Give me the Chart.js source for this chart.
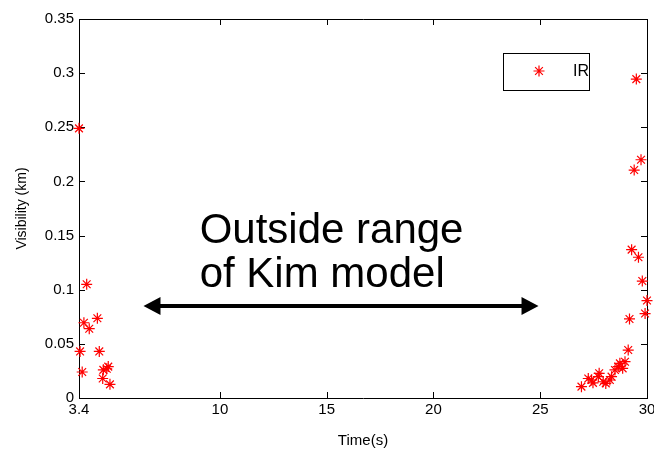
<!DOCTYPE html>
<html>
<head>
<meta charset="utf-8">
<script src="https://cdn.jsdelivr.net/npm/chart.js@4.4.1/dist/chart.umd.min.js"></script>
<style>
  html, body { margin: 0; padding: 0; background: #fff; }
  #wrap { width: 654px; height: 450px; }
</style>
</head>
<body>
<div id="wrap"><canvas id="chart" width="654" height="450"></canvas></div>
<script>
// values
const timeSec = [
    3.40, 3.76, 3.63, 3.88, 4.26, 3.45, 4.35, 3.55, 4.54, 4.70, 4.77, 4.51, 4.85,
    26.93, 27.25, 27.40, 27.47, 27.76, 27.72, 27.95, 28.07, 28.26, 28.34, 28.50,
    28.65, 28.73, 28.86, 28.97, 29.12, 29.18, 29.91, 30.00, 29.78, 29.60, 29.28,
    29.50, 29.72, 29.40
];
const visibilityKm = [
    0.249, 0.105, 0.0695, 0.064, 0.0736, 0.043, 0.043, 0.024, 0.026, 0.027, 0.029, 0.018, 0.0126,
    0.0105, 0.018, 0.0166, 0.014, 0.0228, 0.0197, 0.015, 0.0135, 0.0166, 0.0197, 0.0259,
    0.029, 0.032, 0.0274, 0.0335, 0.0443, 0.073, 0.078, 0.090, 0.108, 0.130, 0.137,
    0.2945, 0.220, 0.2105
];
const xTicks = [3.4, 10, 15, 20, 25, 30];
const yTicks = [0, 0.05, 0.1, 0.15, 0.2, 0.25, 0.3, 0.35];
const seriesName = "IR";
const noteLines = ["Outside range", "of Kim model"];

const FONT = "'Liberation Sans', Arial, sans-serif";
const RED = "#ff0000";

const points = timeSec.map((t, i) => ({ x: t, y: visibilityKm[i] }));

// box, inward ticks, annotation and legend (matlab look)
const matlabFrame = {
    id: "matlabFrame",
    beforeDatasetsDraw(chart) {
        const { ctx, chartArea: a, scales } = chart;
        const len = 6;
        ctx.save();
        ctx.strokeStyle = "#000";
        ctx.lineWidth = 1;
        ctx.beginPath();
        ctx.moveTo(a.left, a.top + 0.5);
        ctx.lineTo(a.right + 0.5, a.top + 0.5);
        ctx.lineTo(a.right + 0.5, a.bottom);
        xTicks.forEach(v => {
            const px = Math.round(scales.x.getPixelForValue(v)) + 0.5;
            ctx.moveTo(px, a.bottom);
            ctx.lineTo(px, a.bottom - len);
            ctx.moveTo(px, a.top);
            ctx.lineTo(px, a.top + len);
        });
        yTicks.forEach(v => {
            const py = Math.round(scales.y.getPixelForValue(v)) + 0.5;
            ctx.moveTo(a.left, py);
            ctx.lineTo(a.left + len, py);
            ctx.moveTo(a.right, py);
            ctx.lineTo(a.right - len, py);
        });
        ctx.stroke();
        ctx.restore();
    },
    afterDraw(chart) {
        const { ctx, chartArea: a, scales } = chart;
        ctx.save();

        // note text
        ctx.fillStyle = "#000";
        ctx.font = "42px " + FONT;
        ctx.textAlign = "left";
        ctx.textBaseline = "alphabetic";
        const tx = scales.x.getPixelForValue(9.05);
        ctx.fillText(noteLines[0], tx, scales.y.getPixelForValue(0.1436));
        ctx.fillText(noteLines[1], tx, scales.y.getPixelForValue(0.1029));

        // double arrow
        const x0 = scales.x.getPixelForValue(6.42);
        const x1 = scales.x.getPixelForValue(24.92);
        const ay = scales.y.getPixelForValue(0.085);
        const hl = 17, hw = 9;
        ctx.strokeStyle = "#000";
        ctx.lineWidth = 4;
        ctx.beginPath();
        ctx.moveTo(x0 + hl - 2, ay);
        ctx.lineTo(x1 - hl + 2, ay);
        ctx.stroke();
        ctx.beginPath();
        ctx.moveTo(x0, ay);
        ctx.lineTo(x0 + hl, ay - hw);
        ctx.lineTo(x0 + hl, ay + hw);
        ctx.closePath();
        ctx.moveTo(x1, ay);
        ctx.lineTo(x1 - hl, ay - hw);
        ctx.lineTo(x1 - hl, ay + hw);
        ctx.closePath();
        ctx.fill();

        // legend box
        const bw = 86, bh = 37;
        const bx = a.right - 58 - bw, by = a.top + 34;
        ctx.fillStyle = "#fff";
        ctx.fillRect(bx, by, bw, bh);
        ctx.strokeStyle = "#000";
        ctx.lineWidth = 1;
        ctx.strokeRect(Math.round(bx) + 0.5, Math.round(by) + 0.5, bw, bh);
        ctx.strokeStyle = RED;
        ctx.lineWidth = 1.2;
        Chart.helpers.drawPoint(ctx, { pointStyle: "star", radius: 5.5, rotation: 0, borderWidth: 1.2 }, bx + 36, by + 18);
        ctx.fillStyle = "#000";
        ctx.font = "16px " + FONT;
        ctx.textBaseline = "middle";
        ctx.fillText(seriesName, bx + 70, by + 19);
        ctx.restore();
    }
};

const tickFont = { family: FONT, size: 15 };

new Chart(document.getElementById("chart"), {
    type: "scatter",
    data: {
        datasets: [{
            label: seriesName,
            data: points,
            pointStyle: "star",
            pointRadius: 5.5,
            pointBorderWidth: 1.2,
            borderColor: RED,
            backgroundColor: RED,
            clip: false
        }]
    },
    options: {
        responsive: false,
        animation: false,
        devicePixelRatio: 1,
        layout: { padding: { left: 0, right: 7, top: 19, bottom: 0 } },
        plugins: {
            legend: { display: false },
            tooltip: { enabled: false }
        },
        scales: {
            x: {
                type: "linear",
                min: 3.4,
                max: 30,
                afterBuildTicks: s => { s.ticks = xTicks.map(v => ({ value: v })); },
                afterFit: s => { s.height = 52; s.paddingLeft = 0; s.paddingRight = 0; },
                ticks: {
                    callback: v => String(v),
                    font: tickFont,
                    color: "#000",
                    padding: 3,
                    autoSkip: false,
                    maxRotation: 0
                },
                grid: { display: false, drawTicks: false },
                border: { color: "#000", width: 1 },
                title: {
                    display: true,
                    text: "Time(s)",
                    font: { family: FONT, size: 15 },
                    color: "#000",
                    padding: { top: 4, bottom: 0 }
                }
            },
            y: {
                type: "linear",
                min: 0,
                max: 0.35,
                afterBuildTicks: s => { s.ticks = yTicks.map(v => ({ value: v })); },
                afterFit: s => { s.width = 79; s.paddingTop = 0; s.paddingBottom = 0; },
                ticks: {
                    callback: v => String(Math.round(v * 100) / 100),
                    font: tickFont,
                    color: "#000",
                    padding: 5,
                    autoSkip: false
                },
                grid: { display: false, drawTicks: false },
                border: { color: "#000", width: 1 },
                title: {
                    display: true,
                    text: "Visibility (km)",
                    font: { family: FONT, size: 14 },
                    color: "#000",
                    padding: { top: 14, bottom: 0 }
                }
            }
        }
    },
    plugins: [matlabFrame]
});
</script>
</body>
</html>
